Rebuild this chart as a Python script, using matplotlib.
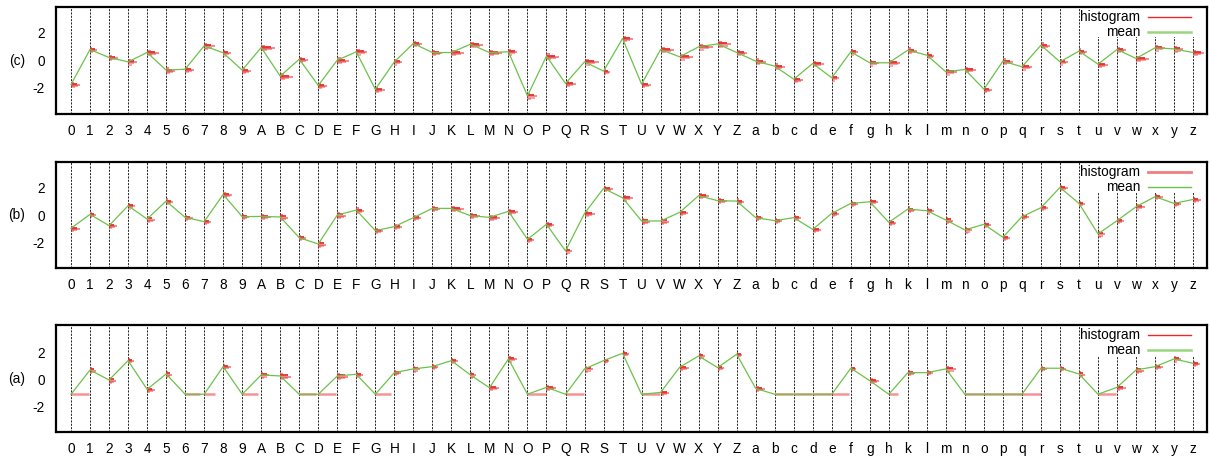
import matplotlib.pyplot as plt
from matplotlib.patches import Rectangle

plt.rcParams['font.family'] = ['Liberation Sans', 'DejaVu Sans']
plt.rcParams['axes.unicode_minus'] = False

labels = list('0123456789ABCDEFGHIJKLMNOPQRSTUVWXYZ') + list('abcdefghklmnopqrstuvwxyz')

# means per category (green line)
mean_c = [-1.75, 0.77, 0.19, -0.12, 0.55, -0.72, -0.65, 1.03, 0.53, -0.72,
          0.91, -1.15, 0.07, -1.82, 0.0, 0.6, -2.1, -0.12, 1.2, 0.55,
          0.55, 1.15, 0.55, 0.6, -2.57, 0.29, -1.68, -0.12, -0.79, 1.56,
          -1.73, 0.77, 0.24, 0.96, 1.17, 0.55, -0.07, -0.43, -1.37, -0.24,
          -1.27, 0.6, -0.19, -0.19, 0.72, 0.36, -0.84, -0.67, -2.09, -0.07,
          -0.48, 1.08, -0.12, 0.65, -0.29, 0.77, 0.12, 0.89, 0.81, 0.55]
mean_b = [-0.96, 0.05, -0.77, 0.67, -0.29, 1.01, -0.17, -0.48, 1.49, -0.12,
          -0.1, -0.14, -1.64, -2.1, 0.0, 0.36, -1.13, -0.84, -0.19, 0.48,
          0.48, -0.05, -0.17, 0.27, -1.76, -0.67, -2.6, 0.12, 1.93, 1.25,
          -0.43, -0.43, 0.19, 1.4, 1.04, 1.01, -0.19, -0.41, -0.19, -1.04,
          0.12, 0.84, 0.96, -0.53, 0.43, 0.31, -0.36, -1.08, -0.67, -1.61,
          -0.12, 0.53, 2.0, 0.84, -1.37, -0.41, 0.6, 1.33, 0.84, 1.13]
mean_a = [-1.12, 0.7, -0.05, 1.4, -0.75, 0.4, -1.12, -1.12, 0.95, -1.12,
          0.33, 0.25, -1.12, -1.12, 0.25, 0.38, -1.12, 0.5, 0.78, 0.95,
          1.4, 0.33, -0.63, 1.53, -1.12, -0.6, -1.12, 0.78, 1.4, 1.95,
          -1.12, -0.98, 0.9, 1.75, 0.88, 1.88, -0.68, -1.12, -1.12, -1.12,
          -1.12, 0.83, -0.1, -1.12, 0.5, 0.5, 0.78, -1.12, -1.12, -1.12,
          -1.12, 0.83, 0.83, 0.4, -1.12, -0.6, 0.7, 0.95, 1.53, 1.2]

# longest histogram bar per category (in category widths)
hist_c = [0.47, 0.35, 0.45, 0.45, 0.6, 0.47, 0.45, 0.55, 0.4, 0.45,
          0.75, 0.65, 0.45, 0.45, 0.6, 0.58, 0.5, 0.4, 0.45, 0.5,
          0.65, 0.67, 0.65, 0.47, 0.5, 0.65, 0.53, 0.74, 0.35, 0.53,
          0.5, 0.7, 0.7, 0.74, 0.7, 0.56, 0.53, 0.53, 0.5, 0.6,
          0.4, 0.4, 0.47, 0.61, 0.5, 0.4, 0.6, 0.6, 0.4, 0.53,
          0.53, 0.47, 0.4, 0.4, 0.5, 0.47, 0.67, 0.53, 0.45, 0.58]
hist_b = [0.45, 0.3, 0.4, 0.35, 0.4, 0.35, 0.4, 0.35, 0.45, 0.35,
          0.5, 0.4, 0.35, 0.4, 0.45, 0.4, 0.4, 0.4, 0.4, 0.4,
          0.65, 0.5, 0.55, 0.5, 0.35, 0.4, 0.35, 0.55, 0.5, 0.55,
          0.45, 0.45, 0.45, 0.55, 0.5, 0.4, 0.4, 0.4, 0.4, 0.45,
          0.4, 0.4, 0.45, 0.4, 0.4, 0.35, 0.4, 0.35, 0.35, 0.35,
          0.35, 0.35, 0.4, 0.3, 0.35, 0.35, 0.45, 0.4, 0.35, 0.4]
hist_a = [0.95, 0.3, 0.35, 0.3, 0.4, 0.3, 0.8, 0.55, 0.4, 0.85,
          0.4, 0.55, 0.9, 0.95, 0.55, 0.35, 0.85, 0.35, 0.35, 0.3,
          0.35, 0.3, 0.5, 0.45, 0.95, 0.5, 0.95, 0.45, 0.3, 0.35,
          0.95, 0.45, 0.5, 0.35, 0.35, 0.3, 0.5, 0.95, 0.95, 0.95,
          0.9, 0.3, 0.5, 0.5, 0.4, 0.3, 0.55, 1.0, 1.0, 1.0,
          1.0, 0.3, 0.3, 0.3, 0.95, 0.45, 0.4, 0.4, 0.35, 0.35]
# categories in (a) whose values all sit on one level
flat_a = ['0', '6', '7', '9', 'C', 'D', 'G', 'O', 'Q', 'U', 'b', 'c', 'd', 'e',
          'h', 'n', 'o', 'p', 'q', 'u']

panel_names = ['(c)', '(b)', '(a)']
panel_means = [mean_c, mean_b, mean_a]
panel_hists = [hist_c, hist_b, hist_a]

# small histogram shape around each mean: (y offset, relative bar length, alpha)
HIST_PROFILE = [(0.12, 0.3, 0.6), (0.04, 0.7, 0.9), (-0.04, 1.0, 0.55),
                (-0.12, 0.75, 0.45), (-0.2, 0.4, 0.4)]

RED = '#e8292b'
PINK = '#f08080'
GREEN = '#6cc24a'
LIGHT_GREEN = '#9ad67f'

# key line styles per panel: (hist colour, hist lw, mean colour, mean lw)
key_styles = [(RED, 1.0, LIGHT_GREEN, 1.8),
              (PINK, 2.0, GREEN, 1.0),
              (RED, 1.0, LIGHT_GREEN, 1.8)]

fig = plt.figure(figsize=(12.1, 4.59), dpi=100)
W, H = 1210, 459
boxes = [(6.7, 114.3), (162.3, 268.3), (325, 432.3)]
ylims = [(-3.9, 3.85), (-3.86, 3.82), (-3.97, 4.07)]

x = list(range(len(labels)))
for k in range(3):
    top, bot = boxes[k]
    ax = fig.add_axes([56 / W, 1 - bot / H, 1151 / W, (bot - top) / H])
    means = panel_means[k]
    hists = panel_hists[k]

    for xi in x:
        ax.axvline(xi, color='black', lw=0.6, ls=(0, (2.5, 1.5)), zorder=1)

    # key background hides grid lines
    ax.add_patch(Rectangle((0.89, 0.715), 0.105, 0.29, transform=ax.transAxes,
                           facecolor='white', edgecolor='none', zorder=2))

    for xi, m, w in zip(x, means, hists):
        if k == 2 and labels[xi] in flat_a:
            ax.hlines(m, xi, xi + w, color=RED, alpha=0.5, lw=1.8, zorder=3)
        else:
            for dy, frac, al in HIST_PROFILE:
                ax.hlines(m + dy, xi, xi + w * frac, color=RED, alpha=al,
                          lw=1.4, zorder=3)

    ax.plot(x, means, color=GREEN, lw=0.9, zorder=4)

    ax.set_xlim(-0.79, 59.73)
    ax.set_ylim(*ylims[k])
    ax.set_xticks(x)
    ax.set_xticklabels(labels)
    ax.set_yticks([-2, 0, 2])
    ax.tick_params(length=0, labelsize=9.8)
    ax.tick_params(axis='x', pad=7)
    ax.tick_params(axis='y', pad=8)
    for s in ax.spines.values():
        s.set_linewidth(1.6)

    ax.text(-0.034, 0.5, panel_names[k], transform=ax.transAxes,
            ha='center', va='center', fontsize=9.8)

    # gnuplot-like key: right-aligned text followed by line sample
    hc, hlw, mc, mlw = key_styles[k]
    ax.text(0.942, 0.907, 'histogram', transform=ax.transAxes,
            ha='right', va='center', fontsize=9.8, zorder=5)
    ax.text(0.942, 0.768, 'mean', transform=ax.transAxes,
            ha='right', va='center', fontsize=9.8, zorder=5)
    ax.plot([0.949, 0.986], [0.907, 0.907], color=hc, lw=hlw,
            transform=ax.transAxes, zorder=5)
    ax.plot([0.949, 0.986], [0.768, 0.768], color=mc, lw=mlw,
            transform=ax.transAxes, zorder=5)

fig.savefig('out.png', dpi=100)
